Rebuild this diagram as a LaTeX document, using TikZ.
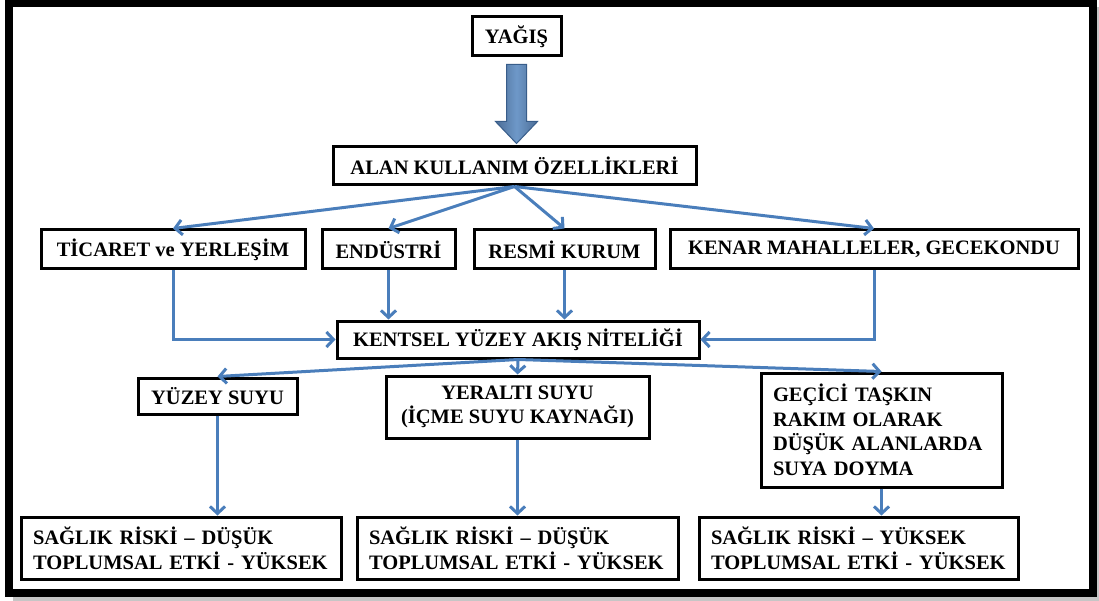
\documentclass[tikz,border=0pt]{standalone}
\usepackage{fontspec}
\setmainfont{Liberation Serif}
\usetikzlibrary{arrows.meta}
\definecolor{akis}{RGB}{74,126,187}
\definecolor{akiskoyu}{RGB}{56,93,138}

\begin{document}
\begin{tikzpicture}[x=1pt,
                    y=-1pt,
                    >={Straight Barb[length=7pt,width=15pt]},
                    box/.style={draw,fill=white,line width=3pt,inner sep=0pt,align=center,
                                font=\bfseries\fontsize{20.5}{24.5}\selectfont},
                    lbox/.style={box,align=left,inner xsep=12pt},
                    flow/.style={->,draw=akis,line width=3pt}
                    ]
\useasboundingbox (0,0) rectangle (1099,601);
% frame
\fill[gray!45] (13,7) rectangle (1099,601);
\draw[line width=8pt,fill=white] (9,3) rectangle (1093,593);

% top
\node[box,minimum width=89pt,minimum height=39pt] (1) at (516.5,36.5) {YAĞIŞ};
\node[box,minimum width=363pt,minimum height=38pt] (2) at (514.5,166) {ALAN KULLANIM ÖZELLİKLERİ};

% land use
\node[box,minimum width=264pt,minimum height=39pt] (3) at (173,249.5) {TİCARET ve YERLEŞİM};
\node[box,minimum width=133pt,minimum height=39pt] (4) at (388.5,249.5) {ENDÜSTRİ};
\node[box,minimum width=181pt,minimum height=39pt] (5) at (564.5,249.5) {RESMİ KURUM};
\node[box,minimum width=408pt,minimum height=39pt] (6) at (874,249.5) {KENAR MAHALLELER, GECEKONDU};

\node[box,minimum width=362pt,minimum height=37pt] (7) at (518,339.5) {KENTSEL YÜZEY AKIŞ NİTELİĞİ};

% water
\node[box,minimum width=159pt,minimum height=36pt] (8) at (217.5,396) {YÜZEY SUYU};
\node[box,minimum width=263pt,minimum height=62pt] (9) at (517.5,407) {YERALTI SUYU\\(İÇME SUYU KAYNAĞI)};
\node[lbox,text width=217pt,minimum height=114pt] (10) at (881.5,430) {GEÇİCİ TAŞKIN\\RAKIM OLARAK\\DÜŞÜK ALANLARDA\\SUYA DOYMA};

% risk
\node[lbox,text width=296pt,minimum height=62pt] (11) at (181,548) {SAĞLIK RİSKİ – DÜŞÜK\\TOPLUMSAL ETKİ - YÜKSEK};
\node[lbox,text width=297pt,minimum height=62pt] (12) at (517.5,548) {SAĞLIK RİSKİ – DÜŞÜK\\TOPLUMSAL ETKİ - YÜKSEK};
\node[lbox,text width=295pt,minimum height=62pt] (13) at (858.5,548) {SAĞLIK RİSKİ – YÜKSEK\\TOPLUMSAL ETKİ - YÜKSEK};

% big arrow
\draw[draw=akiskoyu,line width=1pt,left color=akiskoyu!90,right color=akiskoyu!90,middle color=akis!80!white,
      shift={(1.south)}] (-10,7) -- (10,7) -- (10,64) -- (21,64) -- (0,86) -- (-21,64) -- (-10,64) -- cycle;

\draw[flow] (2.south) -- (3.north);
\draw[flow] (2.south) -- (4.north);
\draw[flow] (2.south) -- (5.north);
\draw[flow] (2.south) -- (6.north);

\draw[flow] (3.south) |- (7.west);
\draw[flow] (4.south) -- (4.south |- 7.north);
\draw[flow] (5.south) -- (5.south |- 7.north);
\draw[flow] (6.south) |- (7.east);

\draw[flow] (7.south) -- (8.north);
\draw[flow] (7.south) -- (9.north);
\draw[flow] (7.south) -- (10.north);

\draw[flow] (8.south) -- (8.south |- 11.north);
\draw[flow] (9.south) -- (9.south |- 12.north);
\draw[flow] (10.south) -- (10.south |- 13.north);
\end{tikzpicture}
\end{document}
